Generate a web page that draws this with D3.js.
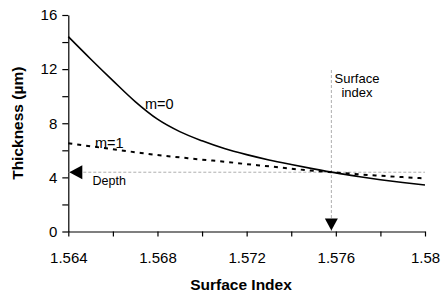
<!DOCTYPE html>
<html>
<head>
<meta charset="utf-8">
<script src="https://cdn.jsdelivr.net/npm/d3@7/dist/d3.min.js"></script>
<style>
  html, body { margin: 0; padding: 0; background: #fff; }
  svg { display: block; font-family: "Liberation Sans", Arial, sans-serif; }
</style>
</head>
<body>
<svg id="chart" width="444" height="292"></svg>
<script>
// ---- data ----
const surfaceIndex = [1.564, 1.565, 1.566, 1.567, 1.568, 1.569, 1.570, 1.571, 1.572,
                      1.573, 1.574, 1.575, 1.576, 1.577, 1.578, 1.579, 1.580];
const thicknessM0 = [14.4, 12.75, 11.15, 9.6, 8.3, 7.38, 6.7, 6.13, 5.68,
                     5.29, 4.95, 4.63, 4.33, 4.07, 3.83, 3.62, 3.44];
const thicknessM1 = [6.52, 6.3, 6.08, 5.86, 5.65, 5.48, 5.31, 5.16, 4.98,
                     4.82, 4.64, 4.49, 4.36, 4.23, 4.12, 4.02, 3.93];
const seriesLabels = ["m=0", "m=1"];
const xTicks = [1.564, 1.566, 1.568, 1.570, 1.572, 1.574, 1.576, 1.578, 1.580];
const xTickLabels = ["1.564", "", "1.568", "", "1.572", "", "1.576", "", "1.58"];
const yTicks = [0, 2, 4, 6, 8, 10, 12, 14, 16];
const yTickLabels = ["0", "", "4", "", "8", "", "12", "", "16"];
const markerIndex = 1.5758;   // surface index marker
const markerDepth = 4.38;     // depth marker
const xTitle = "Surface Index";
const yTitle = "Thickness (\u00b5m)";

// ---- layout ----
const svg = d3.select("#chart");
const mLeft = 68.3, mRight = 425, mTop = 15, mBottom = 231.5;
const x = d3.scaleLinear().domain([1.564, 1.580]).range([mLeft, mRight]);
const y = d3.scaleLinear().domain([0, 16]).range([mBottom, mTop]);

// axes
const xAxis = d3.axisBottom(x).tickValues(xTicks).tickSize(5).tickSizeOuter(0)
  .tickPadding(16).tickFormat((d, i) => xTickLabels[i]);
const yAxis = d3.axisLeft(y).tickValues(yTicks).tickSize(6).tickSizeOuter(0)
  .tickPadding(5).tickFormat((d, i) => yTickLabels[i]);

const gx = svg.append("g").attr("transform", `translate(0,${mBottom})`).call(xAxis);
const gy = svg.append("g").attr("transform", `translate(${mLeft},0)`).call(yAxis);
[gx, gy].forEach(g => {
  g.selectAll("path.domain").attr("stroke", "#000").attr("stroke-width", 1.2);
  g.selectAll(".tick line").attr("stroke", "#000").attr("stroke-width", 1.2);
  g.selectAll(".tick text").attr("fill", "#000").style("font-size", "15px")
    .style("font-family", '"Liberation Sans", Arial, sans-serif');
});

// reference lines
const refStyle = sel => sel.attr("stroke", "#999").attr("stroke-width", 0.8)
  .attr("stroke-dasharray", "3,2").attr("fill", "none");
svg.append("line").attr("x1", x(1.564)).attr("x2", x(1.580))
  .attr("y1", y(markerDepth)).attr("y2", y(markerDepth)).call(refStyle);
svg.append("line").attr("x1", x(markerIndex)).attr("x2", x(markerIndex))
  .attr("y1", 70).attr("y2", y(0)).call(refStyle);

// series
const line = d3.line().x((d, i) => x(surfaceIndex[i])).y(d => y(d)).curve(d3.curveMonotoneX);
svg.append("path").attr("d", line(thicknessM0)).attr("fill", "none")
  .attr("stroke", "#000").attr("stroke-width", 1.6);
svg.append("path").attr("d", line(thicknessM1)).attr("fill", "none")
  .attr("stroke", "#000").attr("stroke-width", 2).attr("stroke-dasharray", "4,5");

// arrows
const ax = x(1.564), ay = y(markerDepth);
svg.append("path").attr("d", `M${ax + 1},${ay} L${ax + 14},${ay - 7} L${ax + 14},${ay + 7} Z`).attr("fill", "#000");
const bx = x(markerIndex), by = y(0);
svg.append("path").attr("d", `M${bx},${by - 1} L${bx - 6.5},${by - 13} L${bx + 6.5},${by - 13} Z`).attr("fill", "#000");

// labels
svg.append("text").attr("x", 145).attr("y", 109).style("font-size", "14.5px").text(seriesLabels[0]);
svg.append("text").attr("x", 95).attr("y", 147.5).style("font-size", "14.5px").text(seriesLabels[1]);
svg.append("text").attr("x", 92.5).attr("y", 184.5).style("font-size", "12.5px").text("Depth");
const si = svg.append("text").attr("text-anchor", "middle").style("font-size", "13px");
si.append("tspan").attr("x", 357).attr("y", 82.5).text("Surface");
si.append("tspan").attr("x", 357).attr("y", 96.5).text("index");

// axis titles
svg.append("text").attr("x", 241).attr("y", 290).attr("text-anchor", "middle")
  .style("font-size", "15.5px").style("font-weight", "bold").text(xTitle);
svg.append("text").attr("transform", `translate(23,${(mTop + mBottom) / 2}) rotate(-90)`)
  .attr("text-anchor", "middle").style("font-size", "15.5px").style("font-weight", "bold").text(yTitle);
</script>
</body>
</html>
